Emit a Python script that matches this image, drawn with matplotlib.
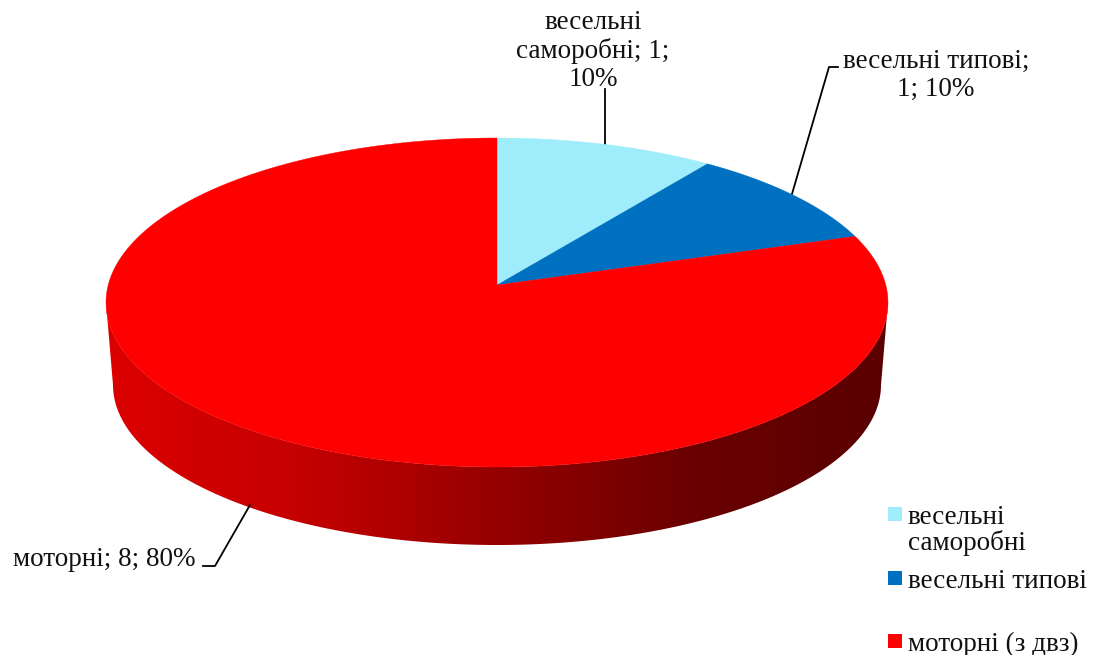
import numpy as np
import matplotlib
matplotlib.use("Agg")
import matplotlib.pyplot as plt
from matplotlib.colors import LinearSegmentedColormap
from matplotlib.patches import Polygon

categories = ["весельні\nсаморобні", "весельні типові", "моторні (з двз)"]
values = [1, 1, 8]
colors = ["#9FEDFB", "#0070C0", "#FF0000"]

plt.rcParams["font.family"] = ["Liberation Serif", "DejaVu Serif"]

W, H = 1095, 655
cx, cy, rx, ry = 497.0, 302.5, 391.0, 164.5
bx, by, brx, bry = 497.0, 385.0, 384.0, 160.0
# vanishing offset: the disc centre lands above the middle of the ellipse
tilt = 0.106


def rim(frac):
    # clockwise from 12 o'clock, with perspective on the disc
    a = 2 * np.pi * np.asarray(frac)
    u, v = np.sin(a), np.cos(a)
    d = 1 + tilt * v
    return cx + rx * u * np.sqrt(1 - tilt ** 2) / d, cy - ry * (v + tilt) / d


fig = plt.figure(figsize=(W / 100, H / 100), dpi=100)
ax = fig.add_axes([0, 0, 1, 1])
ax.set_xlim(0, W)
ax.set_ylim(H, 0)
ax.axis("off")

# side wall with a left-to-right shade
t = np.linspace(0, np.pi, 200)
top_x, top_y = cx + rx * np.cos(t), cy + ry * np.sin(t)
bot_x, bot_y = bx + brx * np.cos(t), by + bry * np.sin(t)
wall = np.vstack([np.column_stack([top_x, top_y]), np.column_stack([bot_x, bot_y])[::-1]])
shade = LinearSegmentedColormap.from_list(
    "wall", ["#DC0000", "#C40000", "#950000", "#6A0000", "#5A0000"])
im = ax.imshow(np.linspace(0, 1, 256)[None, :], cmap=shade, aspect="auto",
               extent=[106, 888, 560, 290], zorder=1)
im.set_clip_path(Polygon(wall, closed=True, transform=ax.transData))
ax.set_xlim(0, W)
ax.set_ylim(H, 0)

# top face wedges
apex = (cx, cy - ry * tilt)
fracs = np.cumsum([0] + values) / sum(values)
for i, col in enumerate(colors):
    f = np.linspace(fracs[i], fracs[i + 1], 240)
    x, y = rim(f)
    pts = np.vstack([[apex], np.column_stack([x, y])])
    ax.add_patch(Polygon(pts, closed=True, facecolor=col, edgecolor=col, lw=0.3, zorder=2))

# data labels and leader lines
ax.plot([605, 605], [89, 144], color="black", lw=1.3, zorder=1)
ax.plot([792, 829, 838], [194, 67, 67], color="black", lw=1.3, zorder=1)
ax.plot([250, 215, 203], [505, 566, 566], color="black", lw=1.3, zorder=1)

label_kw = dict(fontsize=19.5, color="#111111", ha="center", va="center", linespacing=1.15)
ax.text(593, 51, f"весельні\nсаморобні; {values[0]};\n{values[0] * 10}%", **label_kw)
ax.text(936, 75, f"весельні типові;\n{values[1]}; {values[1] * 10}%", **label_kw)
ax.text(104, 560, f"моторні; {values[2]}; {values[2] * 10}%", **label_kw)

# legend
legend_y = [514, 578, 641]
legend_text_y = [530, 582, 644]
for name, col, ly, ty in zip(categories, colors, legend_y, legend_text_y):
    ax.scatter([895], [ly], marker="s", s=88, color=col, linewidths=0, zorder=3)
    ax.text(908, ty, name, fontsize=19.5, color="#111111", ha="left", va="center", linespacing=1.0)

fig.savefig("out.png", dpi=100)
